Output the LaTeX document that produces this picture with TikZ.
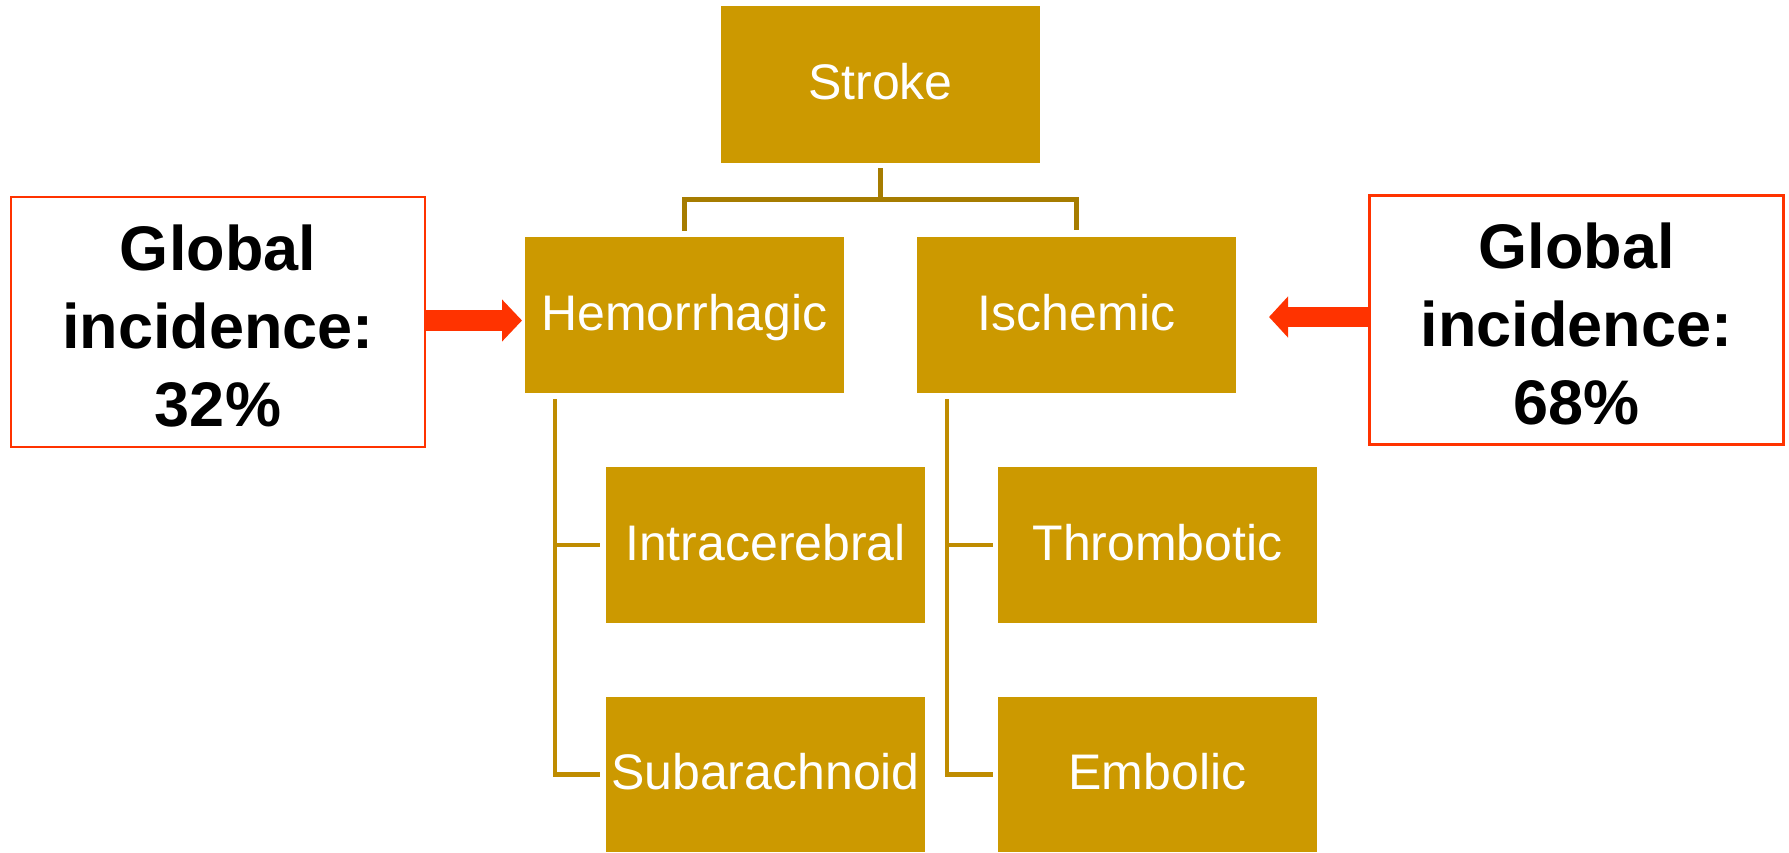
\documentclass[tikz,border=0pt]{standalone}
\usepackage{fontspec}
\setmainfont{Liberation Sans}
\usetikzlibrary{arrows.meta}
\definecolor{gold}{HTML}{CC9900}
\definecolor{golddark}{HTML}{A67C00}
\definecolor{goldline}{HTML}{BF8C00}
\definecolor{redarrow}{HTML}{FF3300}
\begin{document}
\begin{tikzpicture}[x=1pt,y=-1pt,
  goldbox/.style={rectangle, fill=gold, text=white, inner sep=0pt, outer sep=0pt,
    minimum width=319pt, minimum height=156pt, text height=36pt, text depth=6pt,
    font=\fontsize{50}{60}\selectfont},
  infobox/.style={rectangle, draw=redarrow, line width=2.5pt, fill=white, inner sep=0pt,
    outer sep=0pt, minimum width=414pt, minimum height=250pt},
  infotext/.style={align=center, inner sep=0pt, font=\fontsize{63}{78}\selectfont\bfseries},
  topconn/.style={draw=golddark, line width=5pt},
  subconn/.style={draw=goldline, line width=4.5pt},
  bigarrowL/.style={draw=redarrow, line width=21pt, -{Triangle[length=20pt,width=41pt]}},
  bigarrowR/.style={draw=redarrow, line width=20pt, -{Triangle[length=19pt,width=40pt]}}
]
\useasboundingbox (0,0) rectangle (1789,852);

\node[goldbox, minimum height=157pt] (stroke) at (880.5,84.5) {Stroke};
\node[goldbox] (hem) at (684.5,315) {Hemorrhagic};
\node[goldbox] (isc) at (1076.5,315) {Ischemic};
\node[goldbox] (intra) at (765.5,545) {Intracerebral};
\node[goldbox, minimum height=155pt] (sub) at (765.5,774.5) {Subarachnoid};
\node[goldbox] (thromb) at (1157.5,545) {Thrombotic};
\node[goldbox, minimum height=155pt] (emb) at (1157.5,774.5) {Embolic};

\node[infobox] (lbox) at (218,322) {};
\node[infotext] (ltext) at ([yshift=-4pt]lbox.center) {Global\\incidence:\\32\%};
\node[infobox, minimum height=249pt] (rbox) at (1576.5,320) {};
\node[infotext] (rtext) at ([yshift=-4pt]rbox.center) {Global\\incidence:\\68\%};

% tree connectors
\coordinate (j) at ([yshift=-36pt]stroke.south);
\draw[topconn] ([yshift=-5pt]stroke.south) -- (j);
\draw[topconn] ([yshift=6pt]hem.north) |- (j) -| ([yshift=7pt]isc.north);

\draw[subconn] ([xshift=30pt,yshift=-6pt]hem.south west) |- ([xshift=-6pt]intra.west);
\draw[subconn] ([xshift=30pt,yshift=-6pt]hem.south west) |- ([xshift=-6pt]sub.west);
\draw[subconn] ([xshift=30pt,yshift=-6pt]isc.south west) |- ([xshift=-5pt]thromb.west);
\draw[subconn] ([xshift=30pt,yshift=-6pt]isc.south west) |- ([xshift=-5pt]emb.west);

% red arrows
\draw[bigarrowL, shorten >=3pt] ([yshift=1.5pt]lbox.east) -- ([yshift=1.5pt]hem.west |- lbox.east);
\draw[bigarrowR, shorten >=33pt] ([yshift=3pt]rbox.west) -- ([yshift=3pt]isc.east |- rbox.west);
\end{tikzpicture}
\end{document}
